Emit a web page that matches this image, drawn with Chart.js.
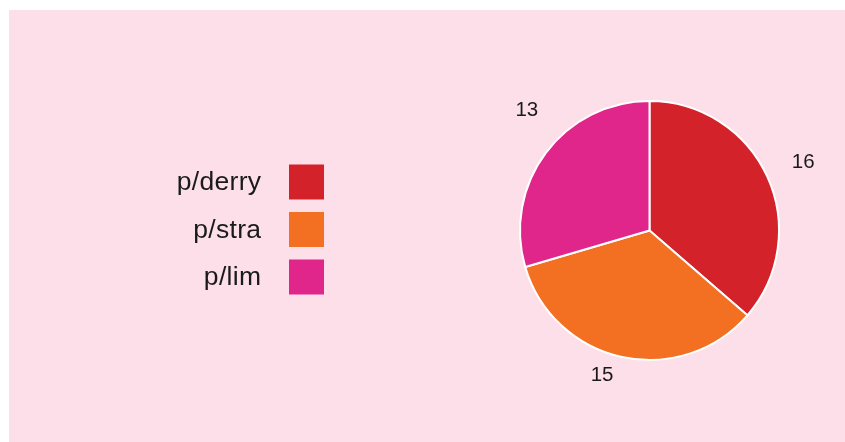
<!DOCTYPE html>
<html>
<head>
<meta charset="utf-8">
<script src="https://cdn.jsdelivr.net/npm/chart.js@4/dist/chart.umd.min.js"></script>
<style>
  html, body { margin: 0; padding: 0; background: #ffffff; }
  #wrap { position: absolute; left: 9px; top: 10px; width: 836px; height: 432px; background: #fcdfe9; }
</style>
</head>
<body>
<div id="wrap"><canvas id="c" width="836" height="432"></canvas></div>
<script>
const categories = ["p/derry", "p/stra", "p/lim"];
const values = [16, 15, 13];
const colors = ["#d32229", "#f37022", "#e0258b"];

const legendPlugin = {
  id: 'sideLegend',
  afterDraw(chart) {
    const ctx = chart.ctx;
    ctx.save();
    const boxX = 280, boxW = 35, firstTop = 154.5, step = 47.5;
    ctx.font = '26.5px "Liberation Sans", Arial, sans-serif';
    ctx.letterSpacing = '0.3px';
    ctx.textAlign = 'right';
    ctx.textBaseline = 'alphabetic';
    chart.data.labels.forEach((lab, i) => {
      const top = firstTop + i * step;
      ctx.fillStyle = chart.data.datasets[0].backgroundColor[i];
      ctx.fillRect(boxX, top, boxW, boxW);
      ctx.fillStyle = '#1a1a1a';
      ctx.fillText(lab, 252 + 0.3, top + boxW / 2 + 8);
    });
    ctx.restore();
  }
};

const valueLabels = {
  id: 'valueLabels',
  afterDatasetsDraw(chart) {
    const ctx = chart.ctx;
    const meta = chart.getDatasetMeta(0);
    ctx.save();
    ctx.font = '20.5px "Liberation Sans", Arial, sans-serif';
    ctx.fillStyle = '#1a1a1a';
    ctx.textAlign = 'center';
    ctx.textBaseline = 'middle';
    meta.data.forEach((arc, i) => {
      const p = arc.getProps(['x', 'y', 'startAngle', 'endAngle', 'outerRadius'], true);
      const mid = (p.startAngle + p.endAngle) / 2 + 0.08;
      const r = p.outerRadius + 34;
      ctx.fillText(String(chart.data.datasets[0].data[i]), p.x + Math.cos(mid) * r, p.y + Math.sin(mid) * r - 12);
    });
    ctx.restore();
  }
};

new Chart(document.getElementById('c'), {
  type: 'pie',
  data: {
    labels: categories,
    datasets: [{
      data: values,
      backgroundColor: colors,
      borderColor: '#ffffff',
      borderWidth: 2
    }]
  },
  options: {
    responsive: false,
    animation: false,
    layout: { padding: { left: 510, right: 65, top: 90, bottom: 81 } },
    plugins: {
      legend: { display: false },
      tooltip: { enabled: false }
    }
  },
  plugins: [valueLabels, legendPlugin]
});
</script>
</body>
</html>
